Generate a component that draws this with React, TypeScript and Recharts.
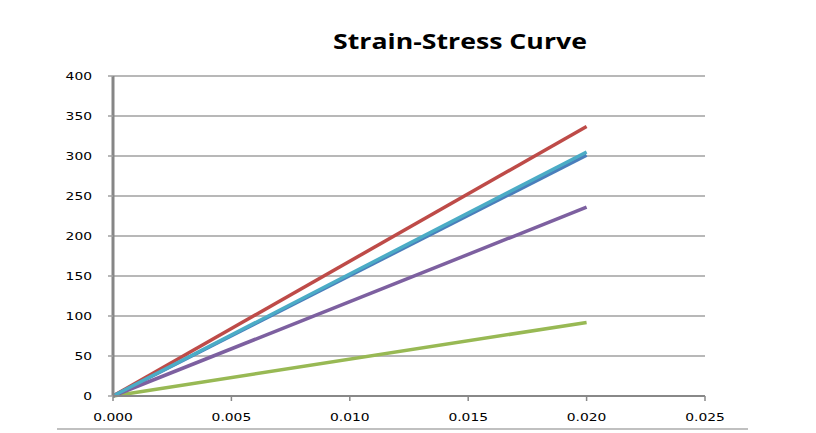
import React from "react";
import { LineChart, Line, XAxis, YAxis, CartesianGrid } from "recharts";

const strain = [0, 0.02];
const seriesBlue = [0, 301];
const seriesRed = [0, 337];
const seriesGreen = [0, 92];
const seriesPurple = [0, 236];
const seriesCyan = [0, 305];

const xTicks = [0, 0.005, 0.01, 0.015, 0.02, 0.025];
const yTicks = [0, 50, 100, 150, 200, 250, 300, 350, 400];

const toData = (vals: number[]) => strain.map((s, i) => ({ strain: s, stress: vals[i] }));

const series = [
  { name: "Blue", values: seriesBlue, color: "#4A7EBB" },
  { name: "Red", values: seriesRed, color: "#BE4B48" },
  { name: "Green", values: seriesGreen, color: "#98B954" },
  { name: "Purple", values: seriesPurple, color: "#7D60A0" },
  { name: "Cyan", values: seriesCyan, color: "#4BACC6" },
];

const FONT = "'DejaVu Sans', Verdana, sans-serif";
const SX = 1.26;

const XTick = (props: any) => {
  const { x, y, payload } = props;
  return (
    <g transform={`translate(${x},${y})`}>
      <text transform={`scale(${SX},1)`} textAnchor="middle" dy="0.71em" fontSize={11} fontFamily={FONT} fill="#000">
        {Number(payload.value).toFixed(3)}
      </text>
    </g>
  );
};

const YTick = (props: any) => {
  const { x, y, payload } = props;
  return (
    <g transform={`translate(${x},${y})`}>
      <text transform={`scale(${SX},1)`} textAnchor="end" dy="0.355em" fontSize={11} fontFamily={FONT} fill="#000">
        {payload.value}
      </text>
    </g>
  );
};

export default function App() {
  return (
    <div style={{ position: "absolute", left: 0, top: 0, width: 816, height: 433, background: "#fff", overflow: "hidden" }}>
      <div
        style={{
          position: "absolute",
          left: 259.5,
          width: 400,
          top: 29,
          textAlign: "center",
          fontFamily: "'Open Sans', sans-serif",
          fontWeight: 700,
          fontSize: 21,
          lineHeight: "24px",
          color: "#000",
          transform: "scaleX(1.27)",
          transformOrigin: "200px 0",
          whiteSpace: "nowrap",
        }}
      >
        Strain-Stress Curve
      </div>
      <LineChart width={816} height={433} margin={{ top: 76, right: 111, bottom: 0, left: 0 }}>
        <CartesianGrid vertical={false} stroke="#A0A0A0" strokeWidth={1.5} />
        <XAxis
          type="number"
          dataKey="strain"
          domain={[0, 0.025]}
          ticks={xTicks}
          height={37}
          tickSize={5}
          tickMargin={12}
          axisLine={{ stroke: "#888888", strokeWidth: 2 }}
          tickLine={{ stroke: "#888888", strokeWidth: 1.5 }}
          tick={<XTick />}
          allowDuplicatedCategory={false}
        />
        <YAxis
          type="number"
          domain={[0, 400]}
          ticks={yTicks}
          width={113}
          tickSize={5}
          tickMargin={16}
          axisLine={{ stroke: "#868686", strokeWidth: 3 }}
          tickLine={{ stroke: "#A0A0A0", strokeWidth: 1.5 }}
          tick={<YTick />}
        />
        {series.map((s) => (
          <Line
            key={s.name}
            data={toData(s.values)}
            dataKey="stress"
            type="linear"
            stroke={s.color}
            strokeWidth={3.5}
            dot={false}
            activeDot={false}
            isAnimationActive={false}
          />
        ))}
      </LineChart>
      <div style={{ position: "absolute", left: 57, top: 428, width: 691, height: 2, background: "#C0C0C0" }} />
    </div>
  );
}
